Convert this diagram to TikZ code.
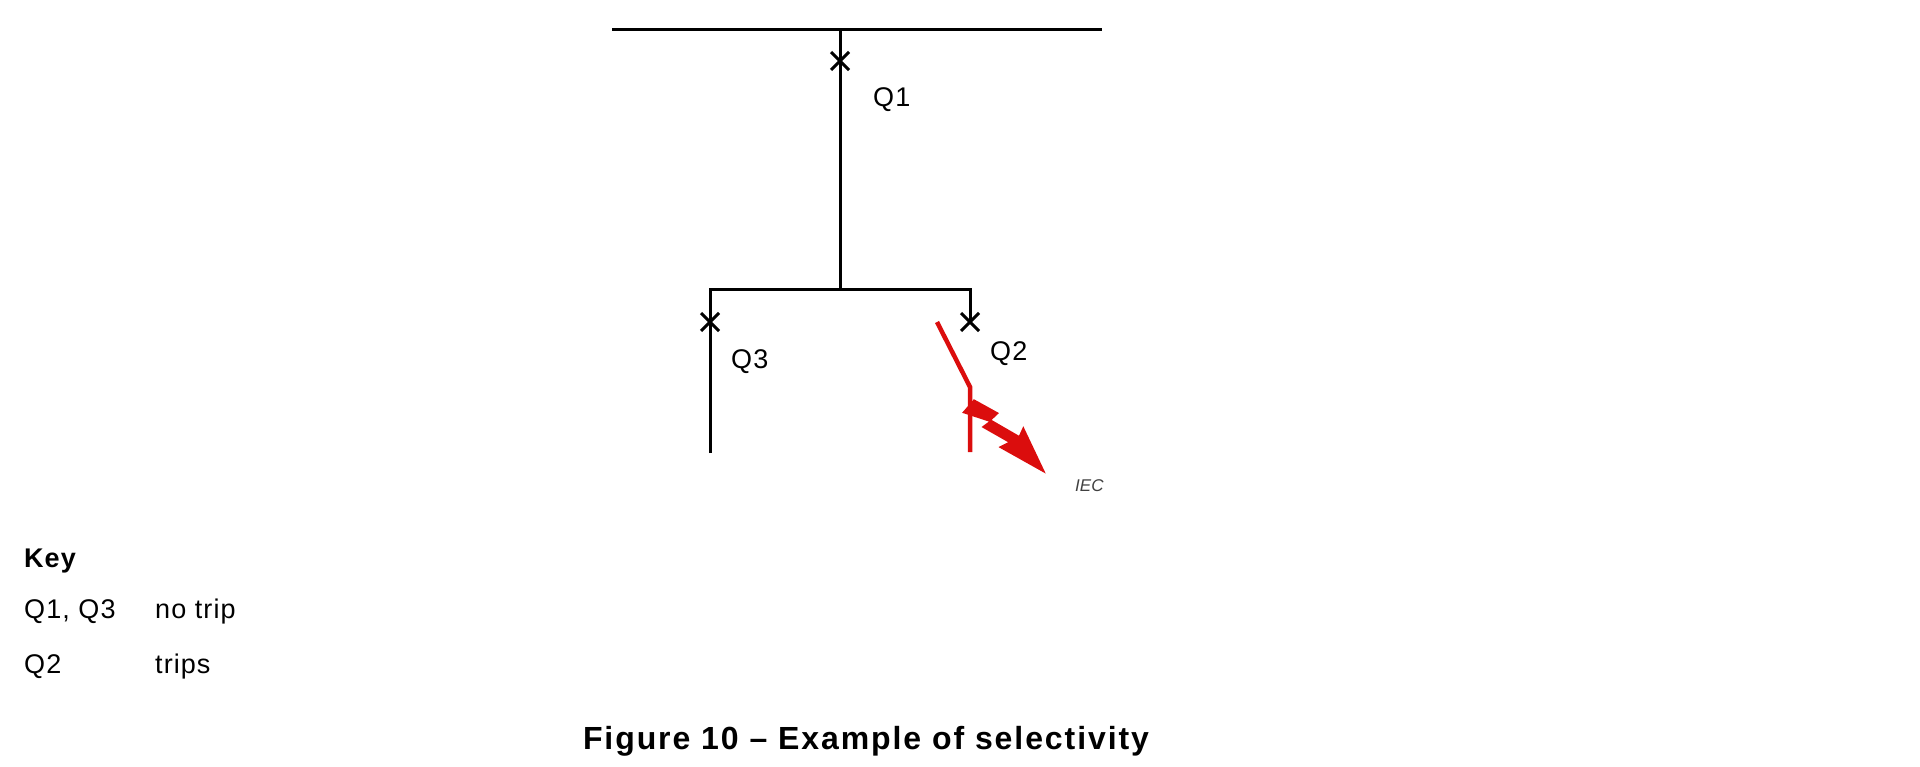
\documentclass[tikz,border=0pt]{standalone}
\usepackage{fontspec}
\setmainfont{Liberation Sans}
\begin{document}
\begin{tikzpicture}[x=1pt,y=-1pt,
  wire/.style={line width=3pt,black},
  fault/.style={line width=4.5pt,red!85!black!95},
  lbl/.style={font=\fontsize{27}{30}\selectfont\addfontfeatures{LetterSpace=4},anchor=west,inner sep=0}]
\useasboundingbox (0,0) rectangle (1920,766);
\coordinate (b1) at (612,29); \coordinate (b2) at (1102,29);
\coordinate (q1t) at (840,29); \coordinate (q1b) at (840,289);
\coordinate (bl) at (710,289); \coordinate (br) at (970,289);
\coordinate (q3b) at (710,453); \coordinate (q2b) at (970,322);
\draw[wire] (b1) -- (b2);
\draw[wire] (q1t) -- (q1b);
\draw[wire] (q3b) -- (bl) -- (br) -- (q2b);
\foreach \x/\y in {840/61,710/322,970/322}
  \draw[wire] (\x-9,\y-9) -- (\x+9,\y+9) (\x-9,\y+9) -- (\x+9,\y-9);
\node[lbl] (Q1) at (873,100) {Q1};
\node[lbl] (Q3) at (731,362) {Q3};
\node[lbl] (Q2) at (990,354) {Q2};
\coordinate (r1) at (937,322); \coordinate (r2) at (970,387); \coordinate (r3) at (970,452);
\draw[fault] (r1) -- (r2) -- (r3);
\begin{scope}[shift={(968,406)},rotate=-41]
\fill[red!85!black!95] (0,-9) -- (28,-15) -- (27,-5) -- (58,-11) -- (55,-21) -- (103,0)
  -- (50,11) -- (54,1) -- (24,7) -- (26,-2) -- (0,9) -- cycle;
\end{scope}
\node[font=\itshape\fontsize{17}{20}\selectfont,text=black!75,anchor=west,inner sep=0] (iec) at (1075,486) {IEC};
\node[lbl,font=\bfseries\fontsize{27}{30}\selectfont\addfontfeatures{LetterSpace=4}] (key) at (24,561) {Key};
\node[lbl] (k1) at (24,612) {Q1, Q3};
\node[lbl] (k1t) at (155,612) {no trip};
\node[lbl] (k2) at (24,667) {Q2};
\node[lbl] (k2t) at (155,667) {trips};
\node[font=\bfseries\fontsize{32}{36}\selectfont\addfontfeatures{LetterSpace=6},inner sep=0] (cap) at (866,741) {Figure 10 -- Example of selectivity};
\end{tikzpicture}
\end{document}
